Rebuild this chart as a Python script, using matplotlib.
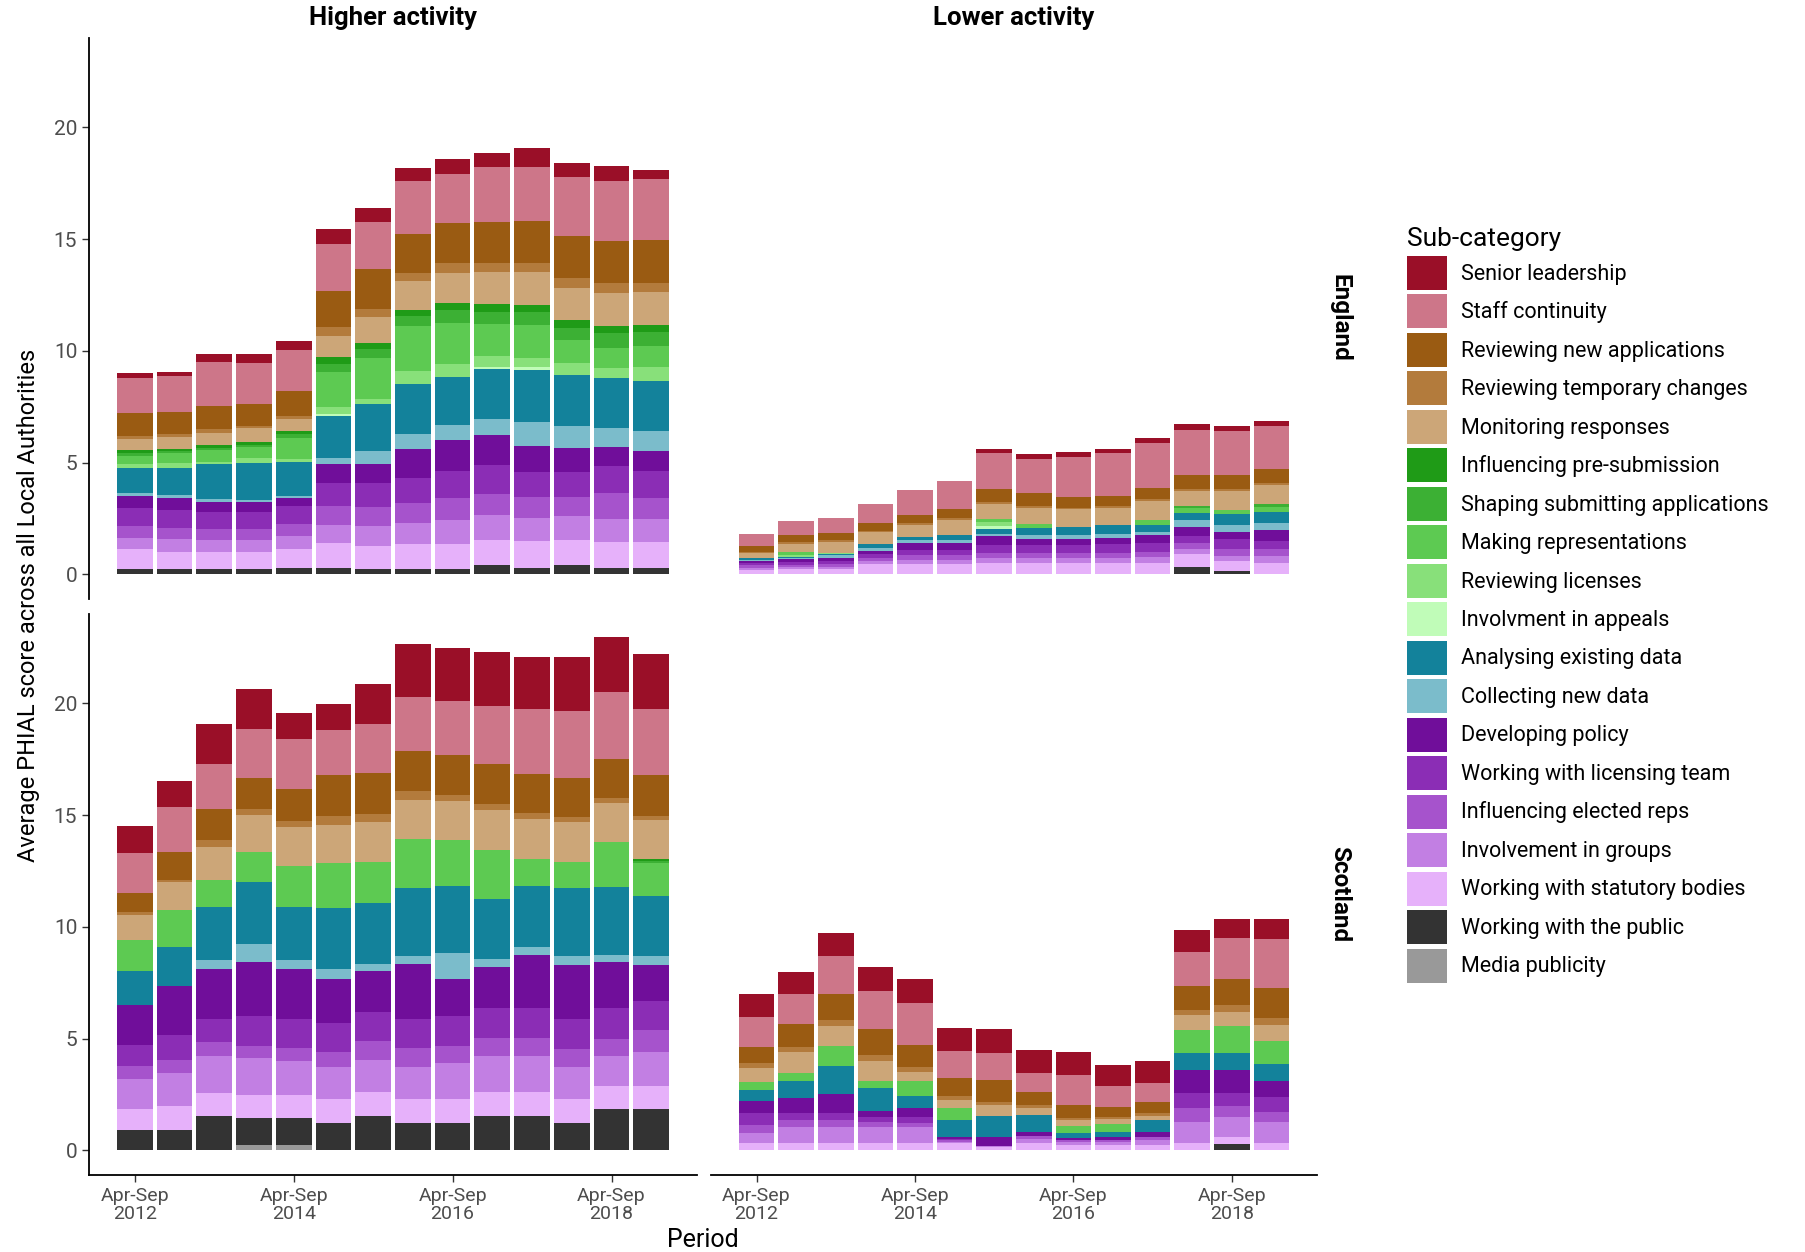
import matplotlib
matplotlib.use("Agg")
import matplotlib.pyplot as plt
from matplotlib.patches import Patch
import numpy as np

plt.rcParams['font.family'] = ['Roboto', 'DejaVu Sans']

# stacking order, bottom -> top
categories = ['Media publicity', 'Working with the public', 'Working with statutory bodies',
              'Involvement in groups', 'Influencing elected reps', 'Working with licensing team',
              'Developing policy', 'Collecting new data', 'Analysing existing data',
              'Involvment in appeals', 'Reviewing licenses', 'Making representations',
              'Shaping submitting applications', 'Influencing pre-submission',
              'Monitoring responses', 'Reviewing temporary changes', 'Reviewing new applications',
              'Staff continuity', 'Senior leadership']
colors = ['#999999', '#333333', '#e6b1fa', '#c27fe3', '#a653cc', '#8b2db5',
          '#700e9a', '#7bbccb', '#13829b', '#c0fcb8', '#88e07a', '#5dca52',
          '#3cb034', '#1f9b17', '#cca678', '#b37b3c', '#9a5b12', '#cd7689', '#9a0f28']

periods = ['Apr-Sep\n2012', 'Oct-Mar\n2012/13', 'Apr-Sep\n2013', 'Oct-Mar\n2013/14',
           'Apr-Sep\n2014', 'Oct-Mar\n2014/15', 'Apr-Sep\n2015', 'Oct-Mar\n2015/16',
           'Apr-Sep\n2016', 'Oct-Mar\n2016/17', 'Apr-Sep\n2017', 'Oct-Mar\n2017/18',
           'Apr-Sep\n2018', 'Oct-Mar\n2018/19']

# one row per category (same order as categories), one value per period
england_higher = [
    [0] * 14,
    [0.22, 0.22, 0.22, 0.22, 0.30, 0.30, 0.22, 0.22, 0.22, 0.40, 0.30, 0.40, 0.30, 0.30],
    [0.90, 0.79, 0.79, 0.79, 0.82, 1.09, 1.07, 1.12, 1.16, 1.16, 1.19, 1.16, 1.15, 1.15],
    [0.52, 0.58, 0.55, 0.55, 0.60, 0.81, 0.87, 0.97, 1.07, 1.12, 1.04, 1.04, 1.04, 1.04],
    [0.52, 0.49, 0.48, 0.45, 0.52, 0.87, 0.87, 0.87, 0.97, 0.90, 0.94, 0.87, 1.16, 0.94],
    [0.82, 0.82, 0.75, 0.78, 0.82, 1.04, 1.04, 1.15, 1.19, 1.30, 1.10, 1.10, 1.19, 1.19],
    [0.55, 0.52, 0.45, 0.45, 0.37, 0.82, 0.85, 1.27, 1.39, 1.36, 1.19, 1.09, 0.87, 0.90],
    [0.12, 0.15, 0.12, 0.09, 0.10, 0.27, 0.60, 0.70, 0.67, 0.73, 1.04, 1.00, 0.85, 0.90],
    [1.12, 1.19, 1.57, 1.64, 1.49, 1.87, 2.09, 2.24, 2.15, 2.21, 2.36, 2.24, 2.24, 2.24],
    [0, 0, 0, 0, 0, 0.10, 0, 0, 0, 0.12, 0.12, 0, 0, 0],
    [0.19, 0.22, 0.10, 0.25, 0.15, 0.30, 0.22, 0.57, 0.60, 0.45, 0.40, 0.57, 0.45, 0.60],
    [0.36, 0.45, 0.54, 0.49, 0.94, 1.57, 1.87, 1.99, 1.84, 1.45, 1.49, 1.00, 0.90, 0.97],
    [0.12, 0.07, 0.10, 0.10, 0.15, 0.37, 0.37, 0.45, 0.57, 0.55, 0.55, 0.57, 0.67, 0.60],
    [0.12, 0.12, 0.10, 0.10, 0.15, 0.30, 0.27, 0.30, 0.30, 0.34, 0.34, 0.33, 0.30, 0.33],
    [0.51, 0.55, 0.57, 0.64, 0.55, 0.94, 1.19, 1.30, 1.37, 1.42, 1.45, 1.46, 1.49, 1.46],
    [0.12, 0.12, 0.18, 0.10, 0.15, 0.40, 0.36, 0.33, 0.42, 0.42, 0.42, 0.45, 0.42, 0.42],
    [1.01, 0.96, 1.01, 0.99, 1.09, 1.64, 1.76, 1.76, 1.79, 1.85, 1.87, 1.84, 1.90, 1.90],
    [1.60, 1.61, 1.97, 1.82, 1.84, 2.09, 2.12, 2.34, 2.19, 2.43, 2.43, 2.64, 2.69, 2.76],
    [0.19, 0.18, 0.37, 0.40, 0.40, 0.67, 0.64, 0.61, 0.67, 0.64, 0.85, 0.64, 0.64, 0.40],
]

england_lower = [
    [0] * 14,
    [0, 0, 0, 0, 0, 0, 0, 0, 0, 0, 0, 0.33, 0.15, 0],
    [0.20, 0.22, 0.22, 0.45, 0.45, 0.45, 0.52, 0.52, 0.52, 0.52, 0.52, 0.57, 0.45, 0.52],
    [0.10, 0.10, 0.12, 0.15, 0.20, 0.20, 0.22, 0.22, 0.22, 0.22, 0.25, 0.22, 0.22, 0.30],
    [0.10, 0.10, 0.12, 0.15, 0.20, 0.20, 0.22, 0.22, 0.22, 0.24, 0.25, 0.27, 0.30, 0.33],
    [0.10, 0.15, 0.15, 0.15, 0.25, 0.25, 0.37, 0.34, 0.34, 0.36, 0.40, 0.33, 0.45, 0.34],
    [0.09, 0.10, 0.12, 0.15, 0.30, 0.30, 0.37, 0.30, 0.30, 0.30, 0.33, 0.42, 0.33, 0.49],
    [0.07, 0.07, 0.12, 0.15, 0.13, 0.13, 0.13, 0.15, 0.15, 0.19, 0.15, 0.30, 0.30, 0.33],
    [0.07, 0.05, 0.06, 0.15, 0.15, 0.25, 0.21, 0.34, 0.39, 0.36, 0.33, 0.33, 0.49, 0.48],
    [0, 0, 0, 0, 0, 0, 0.12, 0, 0, 0, 0, 0, 0, 0],
    [0, 0.10, 0.03, 0, 0, 0, 0.18, 0, 0, 0, 0, 0, 0, 0],
    [0, 0.10, 0, 0, 0, 0, 0.12, 0.15, 0, 0, 0.19, 0.18, 0.19, 0.24],
    [0, 0, 0, 0, 0, 0, 0, 0, 0, 0, 0, 0.09, 0, 0.10],
    [0] * 14,
    [0.25, 0.39, 0.51, 0.55, 0.55, 0.67, 0.67, 0.75, 0.78, 0.79, 0.85, 0.70, 0.85, 0.85],
    [0.03, 0.06, 0.09, 0.05, 0.07, 0.07, 0.10, 0.07, 0.07, 0.07, 0.09, 0.10, 0.10, 0.12],
    [0.25, 0.34, 0.33, 0.37, 0.37, 0.40, 0.57, 0.57, 0.49, 0.48, 0.51, 0.60, 0.60, 0.63],
    [0.57, 0.63, 0.67, 0.82, 1.12, 1.28, 1.64, 1.52, 1.78, 1.88, 2.01, 2.03, 1.99, 1.91],
    [0, 0, 0, 0, 0, 0, 0.19, 0.22, 0.22, 0.22, 0.22, 0.25, 0.22, 0.22],
]

scotland_higher = [
    [0, 0, 0, 0.23, 0.23, 0, 0, 0, 0, 0, 0, 0, 0, 0],
    [0.91, 0.91, 1.52, 1.21, 1.21, 1.21, 1.52, 1.21, 1.21, 1.52, 1.52, 1.21, 1.85, 1.85],
    [0.94, 1.09, 1.06, 1.06, 1.02, 1.09, 1.09, 1.09, 1.09, 1.09, 1.09, 1.09, 1.03, 1.03],
    [1.33, 1.45, 1.64, 1.62, 1.56, 1.45, 1.45, 1.45, 1.61, 1.61, 1.61, 1.45, 1.33, 1.52],
    [0.61, 0.61, 0.61, 0.55, 0.56, 0.64, 0.82, 0.82, 0.76, 0.79, 0.79, 0.79, 0.79, 0.98],
    [0.94, 1.09, 1.06, 1.36, 1.30, 1.33, 1.30, 1.33, 1.36, 1.36, 1.36, 1.33, 1.36, 1.32],
    [1.79, 2.20, 2.23, 2.42, 2.23, 1.97, 1.85, 2.42, 1.62, 1.82, 2.39, 2.42, 2.05, 1.61],
    [0, 0, 0.38, 0.79, 0.41, 0.41, 0.33, 0.38, 1.17, 0.38, 0.36, 0.41, 0.35, 0.41],
    [1.52, 1.77, 2.39, 2.76, 2.39, 2.73, 2.73, 3.03, 3.03, 2.68, 2.73, 3.03, 3.03, 2.68],
    [0] * 14,
    [0] * 14,
    [1.39, 1.64, 1.21, 1.36, 1.82, 2.02, 1.82, 2.20, 2.02, 2.21, 1.21, 1.17, 2.03, 1.45],
    [0, 0, 0, 0, 0, 0, 0, 0, 0, 0, 0, 0, 0, 0.09],
    [0, 0, 0, 0, 0, 0, 0, 0, 0, 0, 0, 0, 0, 0.09],
    [1.11, 1.24, 1.47, 1.64, 1.74, 1.73, 1.79, 1.74, 1.77, 1.77, 1.76, 1.79, 1.71, 1.74],
    [0.11, 0.12, 0.30, 0.27, 0.26, 0.39, 0.33, 0.41, 0.27, 0.26, 0.26, 0.23, 0.23, 0.20],
    [0.88, 1.24, 1.41, 1.39, 1.45, 1.82, 1.86, 1.79, 1.79, 1.82, 1.77, 1.74, 1.74, 1.82],
    [1.79, 2.02, 2.03, 2.20, 2.23, 2.00, 2.20, 2.42, 2.42, 2.58, 2.88, 3.00, 3.03, 2.98],
    [1.20, 1.17, 1.79, 1.77, 1.17, 1.18, 1.79, 2.35, 2.38, 2.42, 2.35, 2.41, 2.42, 2.42],
]

scotland_lower = [
    [0] * 14,
    [0, 0, 0, 0, 0, 0, 0, 0, 0, 0, 0, 0, 0.27, 0],
    [0.33, 0.33, 0.33, 0.33, 0.33, 0.33, 0.15, 0.33, 0.23, 0.23, 0.23, 0.33, 0.33, 0.33],
    [0.45, 0.73, 0.73, 0.73, 0.73, 0.05, 0.05, 0.20, 0.15, 0.15, 0.23, 0.95, 0.88, 0.95],
    [0.35, 0.30, 0.30, 0.23, 0.15, 0.07, 0, 0.10, 0.08, 0.08, 0.15, 0.60, 0.52, 0.45],
    [0.53, 0.30, 0.33, 0.20, 0.30, 0.07, 0, 0, 0, 0, 0, 0.71, 0.55, 0.68],
    [0.53, 0.68, 0.85, 0.26, 0.38, 0.08, 0.38, 0.20, 0.08, 0.12, 0.23, 1.00, 1.06, 0.68],
    [0] * 14,
    [0.53, 0.76, 1.24, 1.06, 0.53, 0.76, 0.98, 0.76, 0.23, 0.26, 0.53, 0.76, 0.76, 0.76],
    [0] * 14,
    [0] * 14,
    [0.33, 0.38, 0.88, 0.30, 0.68, 0.53, 0, 0, 0.30, 0.35, 0, 1.02, 1.21, 1.06],
    [0] * 14,
    [0] * 14,
    [0.65, 0.91, 0.91, 0.91, 0.41, 0.38, 0.48, 0.30, 0.27, 0.21, 0.15, 0.68, 0.61, 0.71],
    [0.20, 0.23, 0.26, 0.23, 0.20, 0.15, 0.12, 0.15, 0.10, 0.09, 0.15, 0.23, 0.30, 0.30],
    [0.74, 1.02, 1.17, 1.18, 1.02, 0.83, 0.98, 0.56, 0.60, 0.45, 0.48, 1.06, 1.17, 1.36],
    [1.33, 1.36, 1.71, 1.70, 1.86, 1.21, 1.21, 0.85, 1.32, 0.94, 0.88, 1.55, 1.86, 2.17],
    [1.02, 1.00, 1.02, 1.06, 1.06, 1.02, 1.06, 1.05, 1.06, 0.95, 0.98, 0.98, 0.83, 0.90],
]

W, H = 1806, 1252
fig = plt.figure(figsize=(W / 100, H / 100), dpi=100)


def px_axes(x0, y0, x1, y1):
    return fig.add_axes([x0 / W, 1 - y1 / H, (x1 - x0) / W, (y1 - y0) / H])


def draw_panel(ax, data, left, bottom):
    x = np.arange(len(periods))
    base = np.zeros(len(periods))
    for vals, col in zip(data, colors):
        vals = np.array(vals, dtype=float)
        ax.bar(x, vals, bottom=base, width=0.9, color=col, linewidth=0)
        base += vals
    ax.set_xlim(-1.15, len(periods) - 1 + 1.15)
    ax.set_ylim(-1.1, 24)
    for s in ['top', 'right', 'left', 'bottom']:
        ax.spines[s].set_visible(False)
    ax.tick_params(colors='#333333', labelcolor='#4d4d4d', length=5, width=1)
    if left:
        ax.spines['left'].set_visible(True)
        ax.spines['left'].set_linewidth(1.3)
        ax.set_yticks([0, 5, 10, 15, 20])
        ax.tick_params(axis='y', labelsize=15)
    else:
        ax.set_yticks([])
    if bottom:
        ax.spines['bottom'].set_visible(True)
        ax.spines['bottom'].set_linewidth(1.3)
        ax.set_xticks(x[::4])
        ax.set_xticklabels([periods[i] for i in x[::4]], fontsize=14, linespacing=1.0)
    else:
        ax.set_xticks([])


ax_tl = px_axes(89, 38, 697, 599)
ax_tr = px_axes(711, 38, 1317, 599)
ax_bl = px_axes(89, 614, 697, 1175)
ax_br = px_axes(711, 614, 1317, 1175)

draw_panel(ax_tl, england_higher, True, False)
draw_panel(ax_tr, england_lower, False, False)
draw_panel(ax_bl, scotland_higher, True, True)
draw_panel(ax_br, scotland_lower, False, True)

# facet strips
fig.text(393 / W, 1 - 18 / H, 'Higher activity', ha='center', va='center',
         fontsize=18.5, fontweight='bold')
fig.text(1014 / W, 1 - 18 / H, 'Lower activity', ha='center', va='center',
         fontsize=18.5, fontweight='bold')
fig.text(1340 / W, 1 - 318 / H, 'England', ha='center', va='center',
         fontsize=17.5, fontweight='bold', rotation=270)
fig.text(1340 / W, 1 - 894 / H, 'Scotland', ha='center', va='center',
         fontsize=17.5, fontweight='bold', rotation=270)

fig.text(29 / W, 1 - 605 / H, 'Average PHIAL score across all Local Authorities',
         ha='center', va='center', rotation=90, fontsize=17)
fig.text(703 / W, 1 - 1240 / H, 'Period', ha='center', va='center', fontsize=18)

# legend, top to bottom
handles = [Patch(facecolor=c) for c in colors[::-1]]
leg = fig.legend(handles, categories[::-1], loc='upper left',
                 bbox_to_anchor=(1388 / W, 1 - 208 / H), frameon=False,
                 title='Sub-category', fontsize=15.5, title_fontsize=19,
                 handlelength=1.85, handleheight=2.05, labelspacing=0.21,
                 handletextpad=0.65, alignment='left')

fig.savefig('out.png', dpi=100, facecolor='white')
